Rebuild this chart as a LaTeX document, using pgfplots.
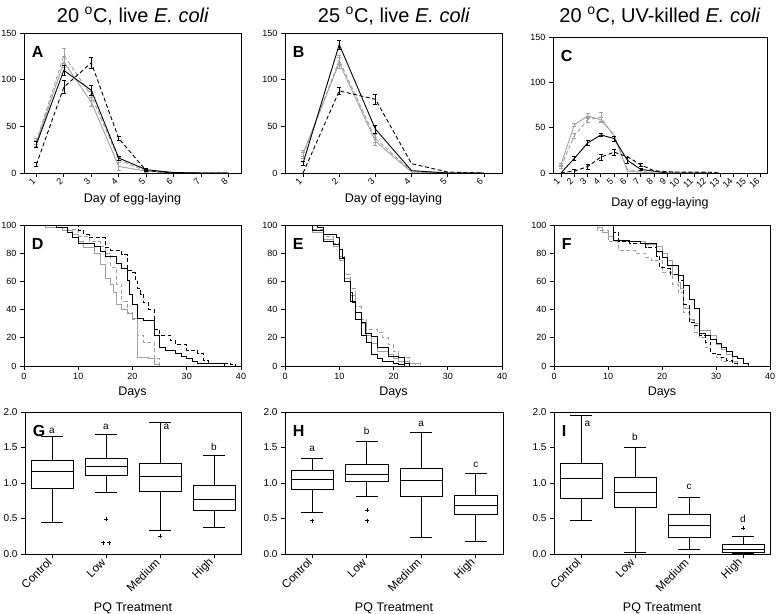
\documentclass[border=0pt]{standalone}
\usepackage{fontspec}
\setmainfont{Liberation Sans}
\usepackage{pgfplots}
\pgfplotsset{compat=1.18}
\usepgfplotslibrary{statistics}
\definecolor{lg}{RGB}{160,160,160}

\tikzset{
  letter/.style={anchor=north west, font=\fontsize{16}{16}\selectfont\bfseries},
  sig/.style={font=\fontsize{10}{10}\selectfont},
}
\pgfplotsset{
  panel/.style={
    scale only axis, anchor=south west,
    axis line style={line width=0.8pt},
    every tick/.style={black, line width=0.8pt},
    tick align=outside, xtick pos=bottom, ytick pos=left,
    major tick length=4pt,
    tick label style={font=\fontsize{9}{10}\selectfont},
    xlabel style={font=\fontsize{12.5}{14}\selectfont},
    /pgf/number format/assume math mode=true,
  },
  eggs/.style={panel, width=#1, height=140pt, ymin=0, ymax=150, ytick={0,50,100,150},
    xticklabel style={rotate=45, anchor=east},
    xlabel={Day of egg-laying}},
  surv/.style={panel, width=#1, height=141pt, xmin=0, xmax=40, ymin=0, ymax=100,
    xtick={0,10,...,40}, ytick={0,20,...,100}, xlabel={Days}},
  pq/.style={panel, width=#1, height=142pt, xmin=0.5, xmax=4.5, ymin=0, ymax=2,
    ytick={0,0.5,...,2}, xtick={1,2,3,4},
    xticklabels={Control,Low,Medium,High},
    yticklabel style={font=\fontsize{10}{11}\selectfont,
      /pgf/number format/.cd, fixed, fixed zerofill, precision=1},
    xticklabel style={rotate=45, anchor=east, font=\fontsize{11.5}{12}\selectfont},
    xlabel={PQ Treatment}, xlabel style={yshift=-2pt}},
  sb/.style={black, line width=0.9pt},
  db/.style={black, line width=0.9pt, dash pattern=on 4pt off 2.5pt},
  sg/.style={lg, line width=0.9pt},
  dg/.style={lg, line width=0.9pt, dash pattern=on 4pt off 2.5pt},
  eb/.style={error bars/.cd, y dir=both, y explicit,
    error bar style={solid, line width=0.6pt},
    error mark options={solid, line width=0.6pt, mark size=2pt, rotate=90}},
  bxs/.style={black, line width=0.8pt, solid},
}
\newcommand{\bx}[6]{\addplot[bxs, boxplot prepared={draw direction=y, draw position=#1,
  box extend=0.78, whisker extend=0.4,
  lower whisker=#2, lower quartile=#3, median=#4, upper quartile=#5, upper whisker=#6}]
  coordinates {};}

\begin{document}
\begin{tikzpicture}
\useasboundingbox (0,0) rectangle (778pt,613pt);

% titles
\node[font=\fontsize{20}{22}\selectfont] at (133pt,597pt) {20 \textsuperscript{o}C, live \textit{E. coli}};
\node[font=\fontsize{20}{22}\selectfont] at (394pt,597pt) {25 \textsuperscript{o}C, live \textit{E. coli}};
\node[font=\fontsize{20}{22}\selectfont] at (660pt,597pt) {20 \textsuperscript{o}C, UV-killed \textit{E. coli}};

% ---------- A ----------
\begin{axis}[eggs=217pt, at={(24pt,440pt)}, xmin=0.55, xmax=8.45, xtick={1,...,8}]
\addplot[sg, eb] coordinates {(1,32)+-(0,3) (2,119)+-(0,6) (3,76)+-(0,5) (4,7)+-(0,4) (5,2)+-(0,1) (6,0) (7,0) (8,0)};
\addplot[dg, eb] coordinates {(1,34)+-(0,3) (2,126)+-(0,8) (3,83)+-(0,5) (4,14)+-(0,3) (5,2)+-(0,1) (6,0) (7,0) (8,0)};
\addplot[sb, eb] coordinates {(1,30.5)+-(0,3) (2,110)+-(0,5) (3,88.6)+-(0,5) (4,16)+-(0,2) (5,3.5)+-(0,1) (6,0.5) (7,0) (8,0)};
\addplot[db, eb] coordinates {(1,9)+-(0,2) (2,92)+-(0,7) (3,118)+-(0,6) (4,37)+-(0,2) (5,2.5)+-(0,1) (6,0) (7,0) (8,0)};
\node[letter] at (rel axis cs:0.02,0.93) {A};
\end{axis}

% ---------- B ----------
\begin{axis}[eggs=217pt, at={(285pt,440pt)}, xmin=0.5, xmax=6.5, xtick={1,...,6}]
\addplot[sg, eb] coordinates {(1,21)+-(0,3) (2,118)+-(0,6) (3,34)+-(0,4) (4,1) (5,0) (6,0)};
\addplot[dg, eb] coordinates {(1,19)+-(0,3) (2,121)+-(0,5) (3,37)+-(0,4) (4,2) (5,0) (6,0)};
\addplot[sb, eb] coordinates {(1,10.6)+-(0,2) (2,137.6)+-(0,5) (3,47)+-(0,4) (4,2.5) (5,0) (6,0)};
\addplot[db, eb] coordinates {(1,0) (2,88)+-(0,4) (3,79)+-(0,5) (4,10) (5,1) (6,0)};
\node[letter] at (rel axis cs:0.02,0.93) {B};
\end{axis}

% ---------- C ----------
\begin{axis}[eggs=214pt, at={(553pt,440pt)}, height=136pt, xmin=0.4, xmax=16.5, xtick={1,...,16}]
\addplot[sg, eb] coordinates {(1,9)+-(0,2) (2,53)+-(0,2) (3,63)+-(0,3) (4,58.6)+-(0,3) (5,42) (6,2) (7,1) (8,0) (9,0) (10,0) (11,0) (12,0)};
\addplot[dg, eb] coordinates {(1,7)+-(0,2) (2,41)+-(0,3) (3,58.6)+-(0,3) (4,61.5)+-(0,5) (5,40) (6,4) (7,2) (8,0) (9,0) (10,0) (11,0) (12,0)};
\addplot[sb, eb] coordinates {(1,0) (2,16)+-(0,2) (3,33)+-(0,3) (4,42)+-(0,2) (5,38)+-(0,3) (6,14)+-(0,3) (7,4)+-(0,1) (8,2) (9,0) (10,0) (11,0) (12,0)};
\addplot[db, eb] coordinates {(1,0.5) (2,2)+-(0,2) (3,7)+-(0,3) (4,17.5)+-(0,3) (5,23)+-(0,3) (6,18) (7,9)+-(0,2) (8,2.5) (9,1.5) (10,1) (11,1) (12,1) (13,0)};
\node[letter] at (rel axis cs:0.02,0.93) {C};
\end{axis}

% ---------- D ----------
\begin{axis}[surv=217pt, at={(24pt,247pt)}]
\addplot[sg, const plot] coordinates {(0,100) (4,98) (7,96) (9,93) (10,88) (11,84) (13,80) (14,72) (15,62) (16,58) (16.5,52) (17,44) (18,40) (19,37) (20,34) (21,6) (23,5) (24,1) (25,0)};
\addplot[dg, const plot] coordinates {(0,100) (6,98) (8,97) (10,92) (12,88) (14,85) (15,80) (16,70) (17,58) (18,46) (19,38) (20,33) (21,22) (22,17) (24,5) (25,0)};
\addplot[sb, const plot] coordinates {(0,100) (6,98) (8,95) (9,91) (10,87) (13,85) (14,81) (15,78) (17,73) (18,69) (19,61) (19.5,51) (20,44) (21,34) (22,32) (24,22) (25,13) (26,11) (28,9) (29,7) (30,5) (31,3) (32,2) (37,0)};
\addplot[db, const plot] coordinates {(0,100) (10,96) (11,93) (12,91) (15,84) (16,82) (18,79) (19,68) (20,66) (20.5,60) (21,55) (21.5,51) (22,45) (23,40) (24,26) (25,22) (27,18) (28,15) (30,11) (32,9) (33,4) (34,2) (38,1) (39,0)};
\node[letter] at (rel axis cs:0.02,0.93) {D};
\end{axis}

% ---------- E ----------
\begin{axis}[surv=217pt, at={(285pt,247pt)}]
\addplot[sg, const plot] coordinates {(0,100) (5,95) (7,90) (9,85) (10,75) (11,62) (12,50) (13,38) (14,30) (15,22) (16,16) (17,10) (19,8) (20,5) (21,3) (23,2) (25,0)};
\addplot[dg, const plot] coordinates {(0,100) (5,97) (7,92) (9,87) (10,78) (11,65) (12,55) (13,42) (14,33) (15,26) (17,24) (18,20) (19,15) (20,10) (21,6) (23,2) (24,0)};
\addplot[sb, const plot] coordinates {(0,100) (6,98) (7,93) (9.5,91) (10,83) (10.5,77) (11,60) (12,52) (12.5,45) (13,38) (14,31) (14.8,23) (16,21) (17,13) (19,7) (21,6) (22,2) (23,0)};
\addplot[sb, const plot] coordinates {(0,100) (5,96) (7,88) (9,86) (10,76) (11,60) (12,46) (13,33) (14,22) (15,17) (16,8) (17,5) (18,3) (20,2) (21,1) (22,0)};
\node[letter] at (rel axis cs:0.02,0.93) {E};
\end{axis}

% ---------- F ----------
\begin{axis}[surv=216pt, at={(554pt,247pt)}]
\addplot[sg, const plot] coordinates {(0,100) (8,98) (9,95) (10,92) (11,89) (13,88) (17,86) (19,85) (20,80) (21,75) (22,65) (23,59) (23.5,55) (24,41) (25,33) (26,30) (27,25) (29,22) (30,15) (31,12) (32,8) (33,3) (34,0)};
\addplot[dg, const plot] coordinates {(0,100) (8,96) (10,88) (12,82) (15,80) (17,77) (18,75) (20,66) (22,58) (23,52) (24,38) (25,32) (26,24) (27,20) (28,13) (29,9) (30,6) (31,3) (33,0)};
\addplot[sb, const plot] coordinates {(0,100) (11,89) (14,88) (16,87) (19,81) (20,77) (21,71) (23,64) (24,57) (25,47) (26,41) (27,23) (28,22) (29,19) (30,16) (31,13) (32,10) (33,7) (34,5) (35,2) (36,0)};
\addplot[db, const plot] coordinates {(0,100) (11,95) (12,88) (14,87) (17,84) (19,78) (19.5,70) (21,69) (21.5,65) (23,61) (24,44) (25,31) (26,29) (27,22) (28,17) (29,9) (30,8) (31,6) (32,4) (33,2) (34,0)};
\node[letter] at (rel axis cs:0.02,0.93) {F};
\end{axis}

% ---------- G ----------
\begin{axis}[pq=216pt, at={(25pt,59pt)}]
\bx{1}{0.45}{0.925}{1.17}{1.32}{1.65}
\bx{2}{0.87}{1.11}{1.24}{1.35}{1.69}
\bx{3}{0.33}{0.88}{1.09}{1.28}{1.85}
\bx{4}{0.38}{0.61}{0.77}{0.96}{1.39}
\addplot[only marks, mark=+, mark size=2pt, black] coordinates {(2,0.49) (1.95,0.16) (2.05,0.16) (3,0.25)};
\node[sig] at (axis cs:1,1.73) {a};
\node[sig] at (axis cs:2,1.79) {a};
\node[sig] at (axis cs:3.12,1.79) {a};
\node[sig] at (axis cs:4,1.51) {b};
\node[letter] at (rel axis cs:0.02,0.93) {G};
\end{axis}

% ---------- H ----------
\begin{axis}[pq=218pt, at={(285pt,59pt)}]
\bx{1}{0.58}{0.91}{1.05}{1.18}{1.35}
\bx{2}{0.81}{1.02}{1.12}{1.26}{1.59}
\bx{3}{0.23}{0.81}{1.03}{1.21}{1.71}
\bx{4}{0.18}{0.56}{0.68}{0.82}{1.14}
\addplot[only marks, mark=+, mark size=2pt, black] coordinates {(1,0.47) (2,0.62) (2,0.47)};
\node[sig] at (axis cs:1,1.48) {a};
\node[sig] at (axis cs:2,1.73) {b};
\node[sig] at (axis cs:3,1.84) {a};
\node[sig] at (axis cs:4,1.26) {c};
\node[letter] at (rel axis cs:0.02,0.93) {H};
\end{axis}

% ---------- I ----------
\begin{axis}[pq=216pt, at={(554pt,59pt)}]
\bx{1}{0.47}{0.79}{1.06}{1.28}{1.95}
\bx{2}{0.02}{0.65}{0.87}{1.08}{1.50}
\bx{3}{0.07}{0.24}{0.40}{0.56}{0.80}
\bx{4}{0.01}{0.02}{0.06}{0.13}{0.245}
\addplot[only marks, mark=+, mark size=2pt, black] coordinates {(4,0.36)};
\node[sig] at (axis cs:1.12,1.83) {a};
\node[sig] at (axis cs:2,1.65) {b};
\node[sig] at (axis cs:3,0.94) {c};
\node[sig] at (axis cs:4,0.49) {d};
\node[letter] at (rel axis cs:0.02,0.93) {I};
\end{axis}
\end{tikzpicture}
\end{document}
